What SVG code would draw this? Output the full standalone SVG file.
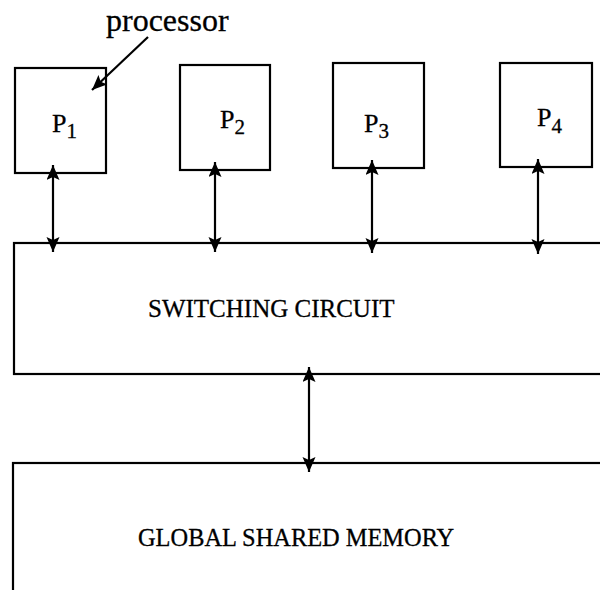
<svg xmlns="http://www.w3.org/2000/svg" width="600" height="590" viewBox="0 0 600 590">
<defs>
<style>
.box{fill:#fff;stroke:#000;stroke-width:2.2}
.lbl{font-family:"Liberation Serif","Times New Roman",serif;fill:#000;stroke:#000;stroke-width:0.3}
.pl{font-size:26px}
.sub{font-size:21px}
.conn{stroke:#000;stroke-width:2.2;fill:none}
</style>
<marker id="ah" markerUnits="userSpaceOnUse" markerWidth="18" markerHeight="14" refX="15" refY="6.5" orient="auto-start-reverse">
<path d="M0,0 L15,6.5 L0,13 L3,6.5 z" fill="#000"/>
</marker>
</defs>
<rect width="600" height="590" fill="#fff"/>
<g id="p1"><rect class="box" x="15" y="68" width="91" height="105"/><text class="lbl pl" x="52" y="132">P<tspan class="sub" dy="6">1</tspan></text></g>
<g id="p2"><rect class="box" x="180" y="65" width="90" height="105"/><text class="lbl pl" x="220" y="128">P<tspan class="sub" dy="6">2</tspan></text></g>
<g id="p3"><rect class="box" x="333" y="63" width="91" height="105"/><text class="lbl pl" x="364" y="132">P<tspan class="sub" dy="6">3</tspan></text></g>
<g id="p4"><rect class="box" x="500" y="63" width="92" height="104"/><text class="lbl pl" x="537" y="126">P<tspan class="sub" dy="7">4</tspan></text></g>
<g id="switch"><rect class="box" x="14" y="243" width="620" height="131"/><text class="lbl" font-size="25" x="148" y="317">SWITCHING CIRCUIT</text></g>
<g id="memory"><rect class="box" x="13" y="463" width="620" height="200"/><text class="lbl" font-size="24.4" x="138" y="546">GLOBAL SHARED MEMORY</text></g>
<g id="processor-label"><text class="lbl" font-size="32" x="106" y="31">processor</text></g>
<g id="connectors">
<line class="conn" x1="148" y1="37" x2="92" y2="90" marker-end="url(#ah)"/>
<line class="conn" x1="53" y1="165" x2="53" y2="252" marker-start="url(#ah)" marker-end="url(#ah)"/>
<line class="conn" x1="215" y1="162" x2="215" y2="252" marker-start="url(#ah)" marker-end="url(#ah)"/>
<line class="conn" x1="372" y1="160" x2="372" y2="253" marker-start="url(#ah)" marker-end="url(#ah)"/>
<line class="conn" x1="538" y1="159" x2="538" y2="254" marker-start="url(#ah)" marker-end="url(#ah)"/>
<line class="conn" x1="309" y1="367" x2="309" y2="472" marker-start="url(#ah)" marker-end="url(#ah)"/>
</g>
</svg>
